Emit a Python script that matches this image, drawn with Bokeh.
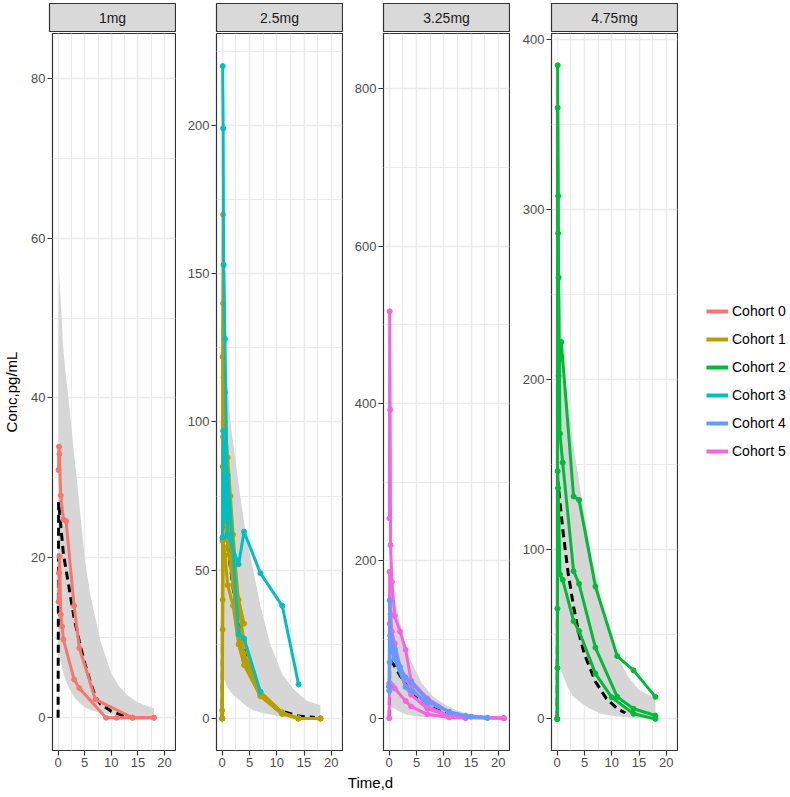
from bokeh.plotting import figure
from bokeh.layouts import row, column
from bokeh.models import Range1d, FixedTicker, Label, Legend, LegendItem
from bokeh.embed import file_html
from bokeh.resources import INLINE

FONT = "Liberation Sans"
NAN = float("nan")

# ---------------- data ----------------
doses = ["1mg", "2.5mg", "3.25mg", "4.75mg"]
cohorts = ["Cohort 0", "Cohort 1", "Cohort 2", "Cohort 3", "Cohort 4", "Cohort 5"]
cohort_colors = ["#F8766D", "#B79F00", "#00BA38", "#00BFC4", "#619CFF", "#F564E3"]
cohort_panel = [0, 1, 3, 1, 2, 2]
draw_order = [0, 1, 2, 3, 5, 4]

x_ticks = [0, 5, 10, 15, 20]
x_minor = [2.5, 7.5, 12.5, 17.5]
x_limits = (-1.05, 22.05)

y_limits = [(-4.1, 85.6), (-10.8, 231.0), (-41.0, 870.0), (-18.6, 403.7)]
y_ticks = [[0, 20, 40, 60, 80], [0, 50, 100, 150, 200], [0, 200, 400, 600, 800], [0, 100, 200, 300, 400]]
y_minor = [[10, 30, 50, 70], [25, 75, 125, 175, 225], [100, 300, 500, 700], [50, 150, 250, 350]]

# Cohort 0 (1mg)
cohort0_t = [[0.08, 0.17, 0.25, 0.5, 1, 1.5, 3, 4, 7, 14, 18],
             [0.08, 0.17, 0.25, 0.5, 0.75, 1, 3, 4, 9, 11, 14, 18]]
cohort0_c = [[31, 33.9, 33, 27.8, 24.8, 24.6, 14, 8.7, 2.3, 0, 0],
             [14.5, 18.1, 20.2, 12.9, 11.4, 9.8, 4.8, 3.7, 0, 0, 0, 0]]
# Cohort 1 (2.5mg)
cohort1_t = [[0, 0.08, 0.17, 0.5, 1, 2, 3, 4],
             [0, 0.08, 0.17, 0.5, 1, 2, 3, 4, 7, 11, 14, 18],
             [0, 0.08, 0.17, 0.5, 1, 2, 3, 4, 7, 11, 14, 18],
             [0, 0.08, 0.25, 0.5, 1, 2, 3, 4, 7, 11, 14, 18],
             [0, 0.08, 0.17, 0.25, 0.5, 1, 1.5, 2, 3, 4, 7, 11, 14, 18]]
cohort1_c = [[0, 122, 170, 110, 80, 55, 40, 32],
             [0, 40, 95, 70, 58, 45, 28, 20, 8, 2, 0, 0],
             [2.7, 30, 60, 55, 45, 38, 25, 18, 7.5, 1.5, 0, 0],
             [0, 60, 100, 80, 70, 50, 30, 22, 9, 2, 0, 0],
             [0, 85, 140, 115, 100, 88, 75, 62, 38, 26, 8.5, 2, 0, 0]]
# Cohort 2 (4.75mg)
cohort2_t = [[0, 0.08, 0.17, 0.25, 0.75, 3, 4, 7, 11, 14, 18],
             [0, 0.04, 0.08, 0.17, 0.25, 0.5, 1, 3, 4, 7, 11, 14, 18],
             [0, 0.04, 0.08, 0.17, 0.5, 1, 3, 4, 7, 10, 14, 18]]
cohort2_c = [[0, 385, 286, 202, 222, 131, 129, 78, 37, 28.6, 13],
             [0, 65, 360, 308, 260, 168, 151, 87, 79.6, 42, 13, 6, 2],
             [0, 30, 146, 136, 85, 82, 57.6, 51.8, 26.7, 12.7, 3, 0]]
# Cohort 3 (2.5mg)
cohort3_t = [[0.08, 0.17, 0.25, 0.5, 1, 3, 4, 7, 11, 14],
             [0.04, 0.17, 0.5, 1, 3, 4, 7]]
cohort3_c = [[220, 199, 153, 128, 62, 52, 63, 49, 38, 11.5],
             [61, 97, 67, 82, 28.5, 27, 9]]
# Cohort 4 (3.25mg)
cohort4_t = [[0, 0.08, 0.17, 0.5, 1, 2, 3, 4, 7, 11, 14, 18],
             [0, 0.08, 0.25, 0.5, 1, 3, 4, 7, 11, 15, 18]]
cohort4_c = [[35, 150, 105, 95, 88, 65, 52, 46, 23, 8, 3, 0.5],
             [40, 71, 100, 85, 75, 40, 35, 20, 8, 2, 0.3]]
# Cohort 5 (3.25mg)
cohort5_t = [[0.04, 0.08, 0.17, 0.25, 0.5, 1, 2, 3, 4, 7, 11, 14, 21],
             [0, 0.08, 0.25, 0.5, 1, 2, 3, 4, 7, 11, 14, 21],
             [0, 0.08, 0.5, 1, 3, 4, 7, 11, 14],
             [0, 0.1, 0.5, 1, 3, 4, 7, 11, 14, 21]]
cohort5_c = [[254, 517, 392, 220, 173, 130, 110, 87, 48, 25, 8, 3, 0],
             [44, 186, 132, 110, 95, 65, 50, 40, 15, 3, 1, 0],
             [40, 45, 42, 38, 22, 15, 5, 1, 0],
             [0, 120, 100, 80, 40, 30, 12, 3, 1, 0]]

cohort_t = [cohort0_t, cohort1_t, cohort2_t, cohort3_t, cohort4_t, cohort5_t]
cohort_c = [cohort0_c, cohort1_c, cohort2_c, cohort3_c, cohort4_c, cohort5_c]

# median prediction (dashed) per dose
median1_t = [0, 0.1, 0.5, 1, 2, 3, 4, 5, 6, 7, 8, 10, 12, 14]
median1_c = [0, 27, 24, 20.5, 16.5, 12.5, 9.5, 6.8, 4.6, 2.6, 1.7, 0.8, 0.3, 0.1]
median2_t = [0, 0.1, 0.5, 1, 2, 3, 4, 5, 7, 10, 14, 17]
median2_c = [0, 75, 68, 58, 44, 32, 24, 17, 9, 3, 0.8, 0.3]
median3_t = [0, 0.1, 0.5, 1, 2, 3, 4, 5, 7, 10, 14, 18]
median3_c = [0, 78, 72, 66, 54, 43, 34, 27, 16, 7, 2, 0.5]
median4_t = [0, 0.1, 0.5, 1, 2, 3, 4, 5, 7, 9, 11, 12.5]
median4_c = [0, 140, 128, 112, 86, 66, 50, 38, 22, 12, 6, 3.5]

# prediction interval (grey ribbon) per dose
band1_t = [0, 0.1, 0.25, 0.5, 1, 1.5, 2, 3, 3.5, 5, 6, 8, 10, 11.5, 13, 15, 17, 18]
band1_lo = [0, 7, 8, 7, 5.5, 4.5, 3.8, 2.6, 2.2, 1.3, 1.0, 0.6, 0.4, 0.3, 0.2, 0.15, 0.1, 0.1]
band1_hi = [0, 50, 55.6, 52, 46, 42.5, 39.7, 33, 30, 20, 15.5, 9.5, 5.5, 3.9, 2.8, 1.9, 1.4, 1.2]
band2_t = [0, 0.1, 0.5, 0.8, 1.5, 2, 3.3, 4.5, 5.7, 7, 8.8, 11, 13, 15.5, 18]
band2_lo = [0, 13, 12.8, 11, 9, 8, 6, 4, 2.8, 2, 1.3, 0.6, 0.4, 0.3, 0.2]
band2_hi = [0, 130, 123, 117, 100, 93, 75, 60, 50, 38, 25, 15, 10, 6, 4.5]
band3_t = [0, 0.1, 0.5, 1, 1.5, 2, 3, 4, 6, 8, 10, 12, 14, 17, 19.5]
band3_lo = [0, 15, 14, 12, 10, 8, 5, 3.5, 1.8, 1, 0.6, 0.3, 0.2, 0.1, 0.05]
band3_hi = [0, 180, 165, 150, 135, 120, 92, 72, 44, 28, 18, 11, 6, 3, 1.5]
band4_t = [0, 0.1, 0.5, 1, 2, 3, 4.6, 6, 8, 10.8, 13, 15, 18]
band4_lo = [0, 32, 30, 26, 18, 13, 9, 6, 3, 1.5, 0.8, 0.5, 0.3]
band4_hi = [0, 270, 255, 215, 185, 160, 128, 100, 70, 38, 25, 17, 12]

median_t = [median1_t, median2_t, median3_t, median4_t]
median_c = [median1_c, median2_c, median3_c, median4_c]
band_t = [band1_t, band2_t, band3_t, band4_t]
band_lo = [band1_lo, band2_lo, band3_lo, band4_lo]
band_hi = [band1_hi, band2_hi, band3_hi, band4_hi]

# ---------------- layout ----------------
FRAME_W = 126
left_borders = [49, 40, 40, 41]
PANEL_H = 742
STRIP_H = 32
TOTAL_W = 788

strips = []
panels = []
for i, dose in enumerate(doses):
    w = left_borders[i] + FRAME_W + 1
    s = figure(width=w, height=STRIP_H, x_range=Range1d(0, 1), y_range=Range1d(0, 1),
               output_backend="svg", toolbar_location=None,
               x_axis_type=None, y_axis_type=None,
               min_border_left=left_borders[i], min_border_right=1,
               min_border_top=3, min_border_bottom=0)
    s.xgrid.visible = False
    s.ygrid.visible = False
    s.background_fill_color = "#D9D9D9"
    s.border_fill_color = "white"
    s.outline_line_color = "#333333"
    s.outline_line_width = 1.2
    s.add_layout(Label(x=0.5, y=0.5, text=dose, text_align="center", text_baseline="middle",
                       text_font=FONT, text_font_size="14px", text_color="#1A1A1A"))
    strips.append(s)

    p = figure(width=w, height=PANEL_H, x_range=Range1d(*x_limits), y_range=Range1d(*y_limits[i]),
               output_backend="svg", toolbar_location=None,
               min_border_left=left_borders[i], min_border_right=1,
               min_border_top=1, min_border_bottom=24)
    p.background_fill_color = "white"
    p.border_fill_color = "white"
    p.outline_line_color = "#333333"
    p.outline_line_width = 1.2

    p.xaxis.ticker = FixedTicker(ticks=x_ticks, minor_ticks=x_minor)
    p.yaxis.ticker = FixedTicker(ticks=y_ticks[i], minor_ticks=y_minor[i])
    for ax in (p.xaxis, p.yaxis):
        ax.axis_line_color = None
        ax.major_tick_line_color = "#333333"
        ax.major_tick_line_width = 1.2
        ax.major_tick_in = 0
        ax.major_tick_out = 5
        ax.minor_tick_line_color = None
        ax.major_label_text_font = FONT
        ax.major_label_text_font_size = "13px"
        ax.major_label_text_color = "#4D4D4D"
        ax.major_label_standoff = 2
    for g in (p.xgrid, p.ygrid):
        g.grid_line_color = "#EBEBEB"
        g.grid_line_width = 1.5
        g.minor_grid_line_color = "#EBEBEB"
        g.minor_grid_line_width = 1

    if i == 0:
        p.yaxis.axis_label = "Conc,pg/mL"
        p.yaxis.axis_label_text_font = FONT
        p.yaxis.axis_label_text_font_size = "15px"
        p.yaxis.axis_label_text_font_style = "normal"
        p.yaxis.axis_label_text_color = "black"
        p.yaxis.axis_label_standoff = 8

    p.varea(x=band_t[i], y1=band_lo[i], y2=band_hi[i], fill_color="#D6D6D6", fill_alpha=1.0)
    p.line(x=median_t[i], y=median_c[i], line_color="black", line_width=3, line_dash="8 5")
    panels.append(p)

for k in draw_order:
    p = panels[cohort_panel[k]]
    for t, c in zip(cohort_t[k], cohort_c[k]):
        p.line(x=t, y=c, line_color=cohort_colors[k], line_width=3)
        p.scatter(x=t, y=c, size=5, fill_color=cohort_colors[k], line_color=cohort_colors[k])

# legend figure (line renderers hold a single NaN so they draw nothing in the plot)
used_w = sum(left_borders) + 4 * (FRAME_W + 1)
leg_w = TOTAL_W - used_w
lf = figure(width=leg_w, height=720, x_range=Range1d(0, 1), y_range=Range1d(0, 1),
            output_backend="svg", toolbar_location=None,
            x_axis_type=None, y_axis_type=None, min_border=0)
lf.xgrid.visible = False
lf.ygrid.visible = False
lf.outline_line_color = None
lf.background_fill_color = "white"
lf.border_fill_color = "white"
items = []
for k, name in enumerate(cohorts):
    lr = lf.line(x=[NAN], y=[NAN], line_color=cohort_colors[k], line_width=4)
    items.append(LegendItem(label=name, renderers=[lr]))
legend = Legend(items=items, location="center_left", margin=28, padding=0,
                glyph_width=22, glyph_height=20, label_height=20, spacing=8,
                label_standoff=4, label_text_font=FONT, label_text_font_size="14px",
                label_text_color="black", border_line_color=None,
                background_fill_alpha=0)
lf.add_layout(legend)

# x-axis title figure
XF_H = 22
xf = figure(width=TOTAL_W, height=XF_H, x_range=Range1d(0, TOTAL_W), y_range=Range1d(0, XF_H),
            output_backend="svg", toolbar_location=None,
            x_axis_type=None, y_axis_type=None, min_border=0)
xf.xgrid.visible = False
xf.ygrid.visible = False
xf.outline_line_color = None
xf.add_layout(Label(x=370, y=XF_H - 8, text="Time,d", text_align="center", text_baseline="middle",
                    text_font=FONT, text_font_size="15px", text_color="black"))

layout = column(row(*strips, spacing=0), row(*panels, lf, spacing=0), xf, spacing=0)

open("out.html", "w").write(file_html(layout, INLINE))
